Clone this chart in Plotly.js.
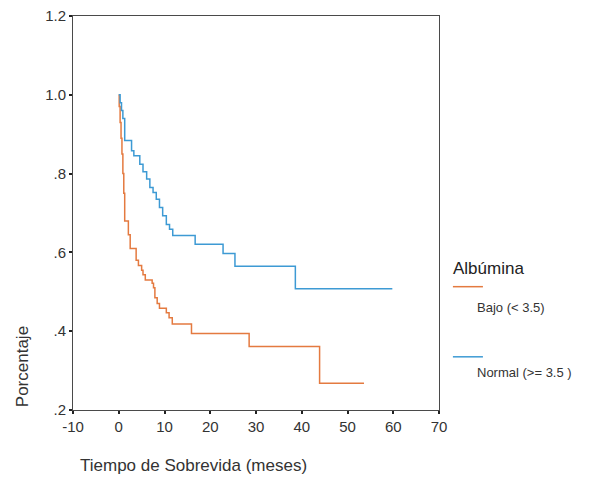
<!DOCTYPE html>
<html>
<head>
<meta charset="utf-8">
<script src="https://cdn.plot.ly/plotly-3.0.1.min.js"></script>
<style>
  html, body { margin: 0; padding: 0; background: #fff; }
  #chart { width: 595px; height: 481px; }
</style>
</head>
<body>
<div id="chart"></div>
<script>
// Kaplan-Meier survival by albumin level (step curves, months vs. proportion surviving)
const groupNames = ['Bajo (< 3.5)', 'Normal (>= 3.5 )'];

// Bajo (< 3.5)
const lowTime = [0, 0.1, 0.3, 0.5, 0.7, 0.9, 1.1, 1.3, 2.1, 2.5, 3.8, 4.3, 5.0, 5.3, 5.8,
                 7.3, 7.6, 7.9, 8.4, 8.9, 10.4, 11.0, 11.7, 15.9, 28.5, 43.9, 53.6];
const lowSurv = [1.0, 0.97, 0.93, 0.89, 0.85, 0.80, 0.75, 0.68, 0.645, 0.61, 0.58, 0.567, 0.555, 0.543, 0.53,
                 0.522, 0.51, 0.485, 0.47, 0.458, 0.447, 0.434, 0.418, 0.394, 0.361, 0.268, 0.268];

// Normal (>= 3.5)
const normTime = [0, 0.3, 0.6, 0.9, 1.3, 2.8, 3.3, 4.6, 5.3, 6.1, 6.8, 7.5, 8.2, 8.9, 9.6,
                  10.4, 11.1, 11.8, 16.7, 22.8, 25.4, 38.6, 59.8];
const normSurv = [1.0, 0.98, 0.96, 0.94, 0.884, 0.858, 0.845, 0.824, 0.805, 0.786, 0.765, 0.752, 0.735, 0.714, 0.693,
                  0.671, 0.659, 0.643, 0.621, 0.597, 0.565, 0.508, 0.508];

const xTicks = [-10, 0, 10, 20, 30, 40, 50, 60, 70];
const xTickText = ['-10', '0', '10', '20', '30', '40', '50', '60', '70'];
const yTicks = [0.2, 0.4, 0.6, 0.8, 1.0, 1.2];
const yTickText = ['.2', '.4', '.6', '.8', '1.0', '1.2'];

const lowColor = '#E47A40';
const normColor = '#3D9AD4';
const textColor = '#333333';
const font = 'Arial, "Liberation Sans", sans-serif';

const traces = [
  { x: lowTime, y: lowSurv, name: groupNames[0], mode: 'lines',
    line: { shape: 'hv', color: lowColor, width: 1.5 } },
  { x: normTime, y: normSurv, name: groupNames[1], mode: 'lines',
    line: { shape: 'hv', color: normColor, width: 1.5 } }
];

const axisCommon = {
  showgrid: false, zeroline: false,
  showline: true, mirror: true, linecolor: '#4a4a4a', linewidth: 1,
  ticks: 'outside', ticklen: 3, tickwidth: 2, tickcolor: '#222',
  tickfont: { family: font, size: 15, color: textColor }
};

const layout = {
  width: 595, height: 481,
  margin: { l: 73, r: 156, t: 16, b: 71 },
  paper_bgcolor: '#fff', plot_bgcolor: '#fff',
  showlegend: false,
  xaxis: Object.assign({}, axisCommon, { range: [-10, 70], tickvals: xTicks, ticktext: xTickText }),
  yaxis: Object.assign({}, axisCommon, { range: [0.2, 1.2], tickvals: yTicks, ticktext: yTickText }),
  shapes: [
    { type: 'line', xref: 'paper', yref: 'paper', x0: 1.038, x1: 1.120, y0: 0.313, y1: 0.313,
      line: { color: lowColor, width: 1.5 } },
    { type: 'line', xref: 'paper', yref: 'paper', x0: 1.038, x1: 1.120, y0: 0.135, y1: 0.135,
      line: { color: normColor, width: 1.5 } }
  ],
  annotations: [
    { text: 'Tiempo de Sobrevida (meses)', xref: 'paper', yref: 'paper', x: 0.329, y: -0.1396,
      xanchor: 'center', yanchor: 'middle', showarrow: false,
      font: { family: font, size: 17, color: textColor } },
    { text: 'Porcentaje', xref: 'paper', yref: 'paper', x: -0.139, y: 0.109, textangle: -90,
      xanchor: 'center', yanchor: 'middle', showarrow: false,
      font: { family: font, size: 17, color: textColor } },
    { text: 'Albúmina', xref: 'paper', yref: 'paper', x: 1.033, y: 0.360,
      xanchor: 'left', yanchor: 'middle', showarrow: false,
      font: { family: font, size: 17, color: '#222' } },
    { text: groupNames[0], xref: 'paper', yref: 'paper', x: 1.098, y: 0.259,
      xanchor: 'left', yanchor: 'middle', showarrow: false,
      font: { family: font, size: 13, color: textColor } },
    { text: groupNames[1], xref: 'paper', yref: 'paper', x: 1.098, y: 0.0964,
      xanchor: 'left', yanchor: 'middle', showarrow: false,
      font: { family: font, size: 13, color: textColor } }
  ]
};

Plotly.newPlot('chart', traces, layout, { staticPlot: true, displayModeBar: false });
</script>
</body>
</html>
